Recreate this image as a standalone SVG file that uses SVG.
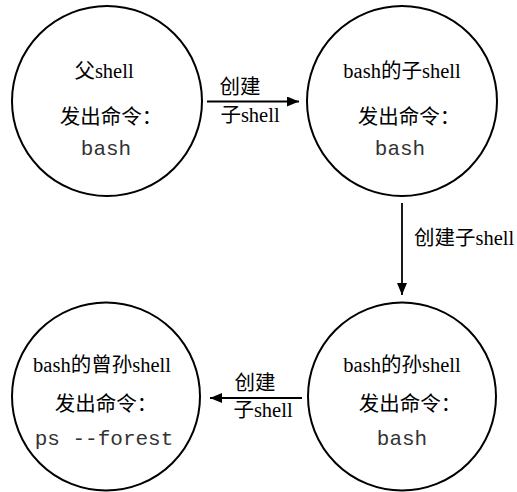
<svg xmlns="http://www.w3.org/2000/svg" width="517" height="492" viewBox="0 0 517 492">
<style>
.c{fill:#fff;stroke:#000;stroke-width:2}
.t{font-family:"Liberation Serif","Noto Sans CJK SC",serif;font-size:20.5px;fill:#000;text-anchor:middle}
.m{font-family:"Liberation Mono",monospace;font-size:21px;fill:#333;text-anchor:middle}
.l{stroke:#000;stroke-width:1.8;fill:none}
</style>
<defs>
<marker id="ah" viewBox="0 0 12 10" refX="12" refY="5" markerWidth="12" markerHeight="10" markerUnits="userSpaceOnUse" orient="auto">
<path d="M0,0 L12,5 L0,10 Z" fill="#000"/>
</marker>
</defs>
<rect width="517" height="492" fill="#fff"/>
<g id="connectors">
<line class="l" x1="207" y1="101.5" x2="299" y2="101.5" marker-end="url(#ah)"/>
<line class="l" x1="402" y1="203" x2="402" y2="295" marker-end="url(#ah)"/>
<line class="l" x1="302" y1="398" x2="210" y2="398" marker-end="url(#ah)"/>
<text class="t" x="240" y="94">创建</text>
<text class="t" x="250" y="122">子shell</text>
<text class="t" x="414" y="245" style="text-anchor:start">创建子shell</text>
<text class="t" x="255" y="390">创建</text>
<text class="t" x="263" y="417">子shell</text>
</g>
<g id="node-parent">
<circle class="c" cx="107" cy="101" r="95"/>
<text class="t" x="104" y="78">父shell</text>
<text class="t" x="111" y="124">发出命令：</text>
<text class="m" x="106" y="155">bash</text>
</g>
<g id="node-child">
<circle class="c" cx="402" cy="101" r="95"/>
<text class="t" x="402" y="78">bash的子shell</text>
<text class="t" x="409" y="124">发出命令：</text>
<text class="m" x="400" y="155">bash</text>
</g>
<g id="node-grandchild">
<circle class="c" cx="402" cy="396.5" r="94"/>
<text class="t" x="402" y="372">bash的孙shell</text>
<text class="t" x="410" y="411">发出命令：</text>
<text class="m" x="402" y="445">bash</text>
</g>
<g id="node-greatgrandchild">
<circle class="c" cx="106" cy="396.5" r="94"/>
<text class="t" x="102" y="372">bash的曾孙shell</text>
<text class="t" x="106" y="411">发出命令：</text>
<text class="m" x="104" y="445">ps --forest</text>
</g>
</svg>
